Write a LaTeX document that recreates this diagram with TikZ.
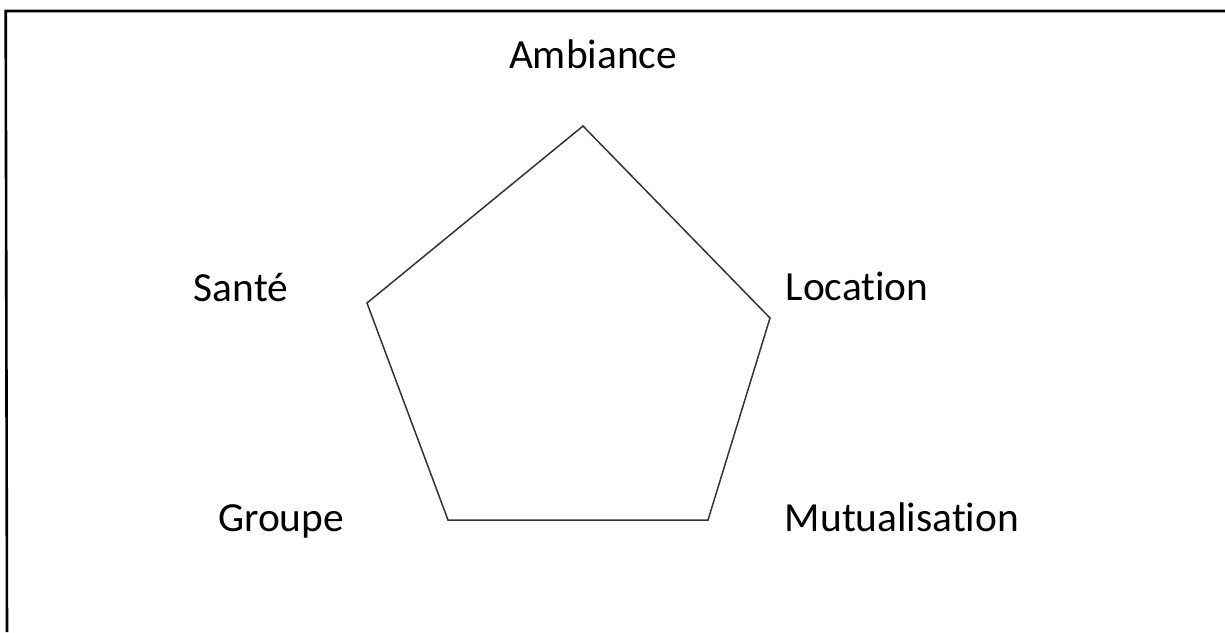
\documentclass[tikz,border=0pt]{standalone}
\usepackage{fontspec}
\setmainfont[Ligatures={NoCommon}]{Carlito}
\usetikzlibrary{positioning}
\tikzset{
    % Define style for the labels
    etiquette/.style={
           inner sep=0pt,
           anchor=base,
           font=\fontsize{41.4}{49}\selectfont},
    % Define style for the pentagon
    contour/.style={
           draw=black!80,
           line width=1.5pt,
           line join=miter},
    % Define style for the frame
    cadre/.style={
           draw=black,
           line width=2.6pt}
}

\begin{document}
\begin{tikzpicture}[x=1pt,y=-1pt]
  \useasboundingbox (0,0) rectangle (1225,632);
  % frame (only top and left edges visible)
  \coordinate (c1) at (5.7,11);
  \coordinate (c2) at (1225,11);
  \coordinate (c3) at (7,632);
  \draw[cadre] (c2) -- (c1) -- (c3);
  % vertices
  \coordinate (haut) at (583,126);
  \coordinate (droite) at (770,318);
  \coordinate (basdroite) at (708,520);
  \coordinate (basgauche) at (448,520);
  \coordinate (gauche) at (367,303);
  \draw[contour] (haut) -- (droite) -- (basdroite) -- (basgauche) -- (gauche) -- cycle;
  % labels
  \node[etiquette] (ambiance) at (593,68) {Ambiance};
  \node[etiquette] (sante) at (241,301) {Santé};
  \node[etiquette] (location) at (857,300) {Location};
  \node[etiquette] (groupe) at (281,531) {Groupe};
  \node[etiquette] (mutualisation) at (902,531) {Mutualisation};
\end{tikzpicture}
\end{document}
